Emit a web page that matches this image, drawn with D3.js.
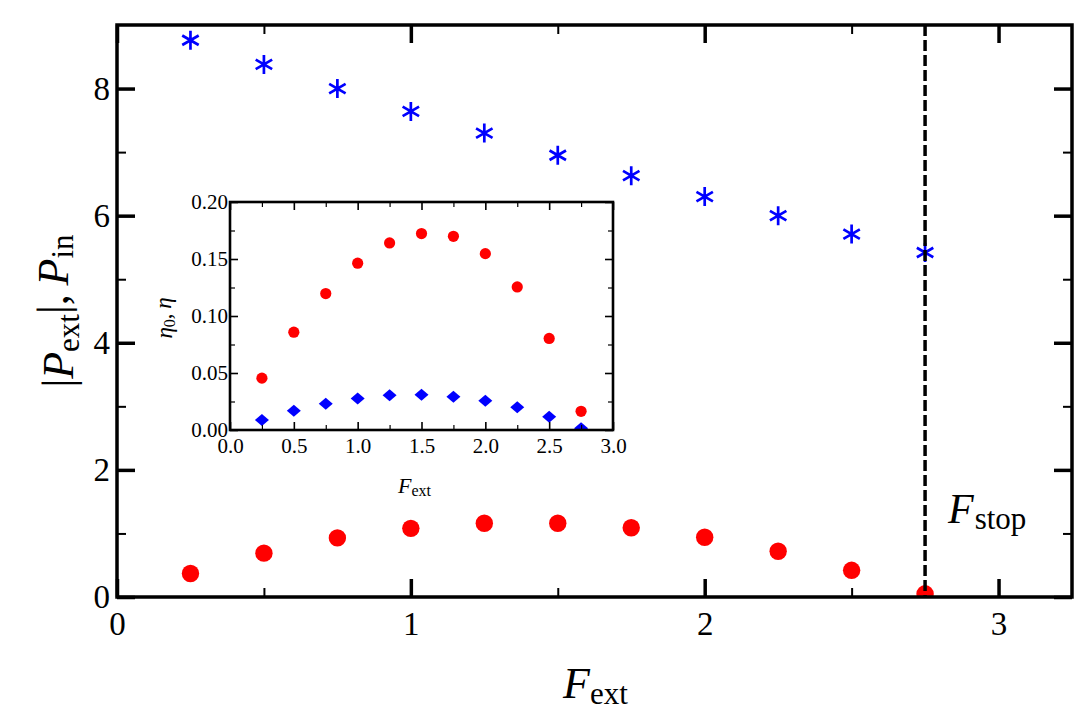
<!DOCTYPE html>
<html>
<head>
<meta charset="utf-8">
<script src="https://cdn.jsdelivr.net/npm/d3@7"></script>
<style>
  body { margin: 0; background: #fff; }
  svg text { font-family: "Liberation Serif", "Times New Roman", serif; fill: #000; }
</style>
</head>
<body>
<svg id="chart" width="1081" height="720"></svg>
<script>
// --- Data ---
const fExt = [0.25, 0.5, 0.75, 1.0, 1.25, 1.5, 1.75, 2.0, 2.25, 2.5, 2.75];
const pIn = [8.76, 8.38, 8.0, 7.64, 7.30, 6.95, 6.63, 6.30, 6.00, 5.71, 5.42];
const pExtAbs = [0.37, 0.69, 0.93, 1.08, 1.16, 1.16, 1.09, 0.94, 0.72, 0.42, 0.05];
const eta0 = [0.0455, 0.0858, 0.1197, 0.1463, 0.1641, 0.1723, 0.1699, 0.1547, 0.1255, 0.0803, 0.0164];
const eta = [0.0088, 0.0169, 0.0231, 0.0277, 0.0304, 0.0309, 0.0292, 0.0257, 0.0199, 0.0117, 0.0015];
const fStop = 2.75;

const mainXMajor = [0, 1, 2, 3], mainXMinor = [0.5, 1.5, 2.5];
const mainYMajor = [0, 2, 4, 6, 8], mainYMinor = [1, 3, 5, 7];
const insetXMajor = [0, 0.5, 1, 1.5, 2, 2.5, 3], insetXMinor = [0.25, 0.75, 1.25, 1.75, 2.25, 2.75];
const insetYMajor = [0, 0.05, 0.1, 0.15, 0.2], insetYMinor = [0.025, 0.075, 0.125, 0.175];

const svg = d3.select("#chart");
const defs = svg.append("defs");

// draws ticks pointing inward on all four sides of a box
function frameAxes(g, x, y, opt) {
    const [x0, x1] = x.range(), [y0, y1] = y.range();
    const add = (axis, tr, labels) => {
        const a = g.append("g").attr("transform", tr).call(axis);
        a.select(".domain").remove();
        a.selectAll("line").attr("stroke", "#000");
        a.selectAll("text").style("font-size", opt.font + "px");
        if (!labels) a.selectAll("text").remove();
        return a;
    };
    const sides = [
        [d3.axisBottom, x, `translate(0,${y0})`, opt.xMajor, opt.xMinor, true, opt.xFmt, opt.xPad],
        [d3.axisTop, x, `translate(0,${y1})`, opt.xMajor, opt.xMinor, false, opt.xFmt, 0],
        [d3.axisLeft, y, `translate(${x0},0)`, opt.yMajor, opt.yMinor, true, opt.yFmt, opt.yPad],
        [d3.axisRight, y, `translate(${x1},0)`, opt.yMajor, opt.yMinor, false, opt.yFmt, 0]
    ];
    sides.forEach(([fn, sc, tr, major, minor, lab, fmt, pad]) => {
        add(fn(sc).tickValues(minor).tickSize(-opt.minorLen).tickFormat(""), tr, false)
            .selectAll("line").attr("stroke-width", opt.minorW);
        add(fn(sc).tickValues(major).tickSize(-opt.majorLen).tickPadding(pad).tickFormat(fmt), tr, lab)
            .selectAll("line").attr("stroke-width", opt.majorW);
    });
    g.append("rect")
        .attr("x", x0).attr("y", y1).attr("width", x1 - x0).attr("height", y0 - y1)
        .attr("fill", "none").attr("stroke", "#000").attr("stroke-width", opt.frameW);
}

function starPath(r) {
    let p = "";
    [90, 30, -30].forEach(a => {
        const dx = r * Math.cos(a * Math.PI / 180), dy = r * Math.sin(a * Math.PI / 180);
        p += `M${-dx},${dy}L${dx},${-dy}`;
    });
    return p;
}

// --- Main plot ---
const x = d3.scaleLinear().domain([0, 3.25]).range([117, 1072]);
const y = d3.scaleLinear().domain([0, 9]).range([597, 25]);

defs.append("clipPath").attr("id", "clipMain").append("rect")
    .attr("x", x(0)).attr("y", y(9)).attr("width", x(3.25) - x(0)).attr("height", y(0) - y(9));

const main = svg.append("g");
const marks = main.append("g").attr("clip-path", "url(#clipMain)");

marks.selectAll("circle.pext").data(fExt).join("circle")
    .attr("class", "pext")
    .attr("cx", d => x(d)).attr("cy", (d, i) => y(pExtAbs[i]))
    .attr("r", 8.7).attr("fill", "#ff0000");

marks.selectAll("path.pin").data(fExt).join("path")
    .attr("class", "pin")
    .attr("transform", (d, i) => `translate(${x(d)},${y(pIn[i])})`)
    .attr("d", starPath(9.5))
    .attr("stroke", "#0000ff").attr("stroke-width", 2.7).attr("fill", "none");

marks.append("line")
    .attr("x1", x(fStop)).attr("x2", x(fStop)).attr("y1", y(9)).attr("y2", y(0))
    .attr("stroke", "#000").attr("stroke-width", 3.5).attr("stroke-dasharray", "11,4");

frameAxes(main, x, y, {
    xMajor: mainXMajor, xMinor: mainXMinor, yMajor: mainYMajor, yMinor: mainYMinor,
    xFmt: d3.format("d"), yFmt: d3.format("d"), xPad: 15, yPad: 7,
    font: 33, majorLen: 18, minorLen: 9, majorW: 3.5, minorW: 2, frameW: 3.5
});

// axis titles
const xt = svg.append("text").attr("x", 563).attr("y", 698).style("font-size", "44px");
xt.append("tspan").style("font-style", "italic").text("F");
xt.append("tspan").attr("dy", "0.18em").style("font-size", "31px").text("ext");

const yt = svg.append("text")
    .attr("transform", "translate(73,311) rotate(-90)")
    .attr("text-anchor", "middle").style("font-size", "44px");
yt.append("tspan").text("|");
yt.append("tspan").style("font-style", "italic").text("P");
yt.append("tspan").attr("dy", "0.18em").style("font-size", "31px").text("ext");
yt.append("tspan").attr("dy", "-0.25em").text("|,\u2009");
yt.append("tspan").style("font-style", "italic").text("P");
yt.append("tspan").attr("dy", "0.18em").style("font-size", "31px").text("in");

const st = svg.append("text").attr("x", 948).attr("y", 523).style("font-size", "42px");
st.append("tspan").style("font-style", "italic").text("F");
st.append("tspan").attr("dx", "1").attr("dy", "6").style("font-size", "31px").text("stop");

// --- Inset ---
const xi = d3.scaleLinear().domain([0, 3]).range([230, 613]);
const yi = d3.scaleLinear().domain([0, 0.2]).range([430, 202]);

const inset = svg.append("g");
inset.append("rect")
    .attr("x", xi(0)).attr("y", yi(0.2)).attr("width", xi(3) - xi(0)).attr("height", yi(0) - yi(0.2))
    .attr("fill", "#fff");

defs.append("clipPath").attr("id", "clipInset").append("rect")
    .attr("x", xi(0)).attr("y", yi(0.2)).attr("width", xi(3) - xi(0)).attr("height", yi(0) - yi(0.2));

const imarks = inset.append("g").attr("clip-path", "url(#clipInset)");

imarks.selectAll("circle.eta0").data(fExt).join("circle")
    .attr("class", "eta0")
    .attr("cx", d => xi(d)).attr("cy", (d, i) => yi(eta0[i]))
    .attr("r", 5.6).attr("fill", "#ff0000");

imarks.selectAll("path.eta").data(fExt).join("path")
    .attr("class", "eta")
    .attr("transform", (d, i) => `translate(${xi(d)},${yi(eta[i])})`)
    .attr("d", "M0,-6L7,0L0,6L-7,0Z")
    .attr("fill", "#0000ff");

frameAxes(inset, xi, yi, {
    xMajor: insetXMajor, xMinor: insetXMinor, yMajor: insetYMajor, yMinor: insetYMinor,
    xFmt: d3.format(".1f"), yFmt: d3.format(".2f"), xPad: 8, yPad: 2,
    font: 21, majorLen: 8, minorLen: 5, majorW: 1.6, minorW: 1.2, frameW: 2.6
});

const ixt = svg.append("text").attr("x", 398).attr("y", 493).style("font-size", "22px");
ixt.append("tspan").style("font-style", "italic").text("F");
ixt.append("tspan").attr("dy", "0.18em").style("font-size", "16px").text("ext");

const iyt = svg.append("text")
    .attr("transform", "translate(172,318) rotate(-90)")
    .attr("text-anchor", "middle").style("font-size", "23px");
iyt.append("tspan").style("font-style", "italic").text("η");
iyt.append("tspan").attr("dy", "0.18em").style("font-size", "16px").text("0");
iyt.append("tspan").attr("dy", "-0.18em").text(",\u2009");
iyt.append("tspan").style("font-style", "italic").text("η");
</script>
</body>
</html>
